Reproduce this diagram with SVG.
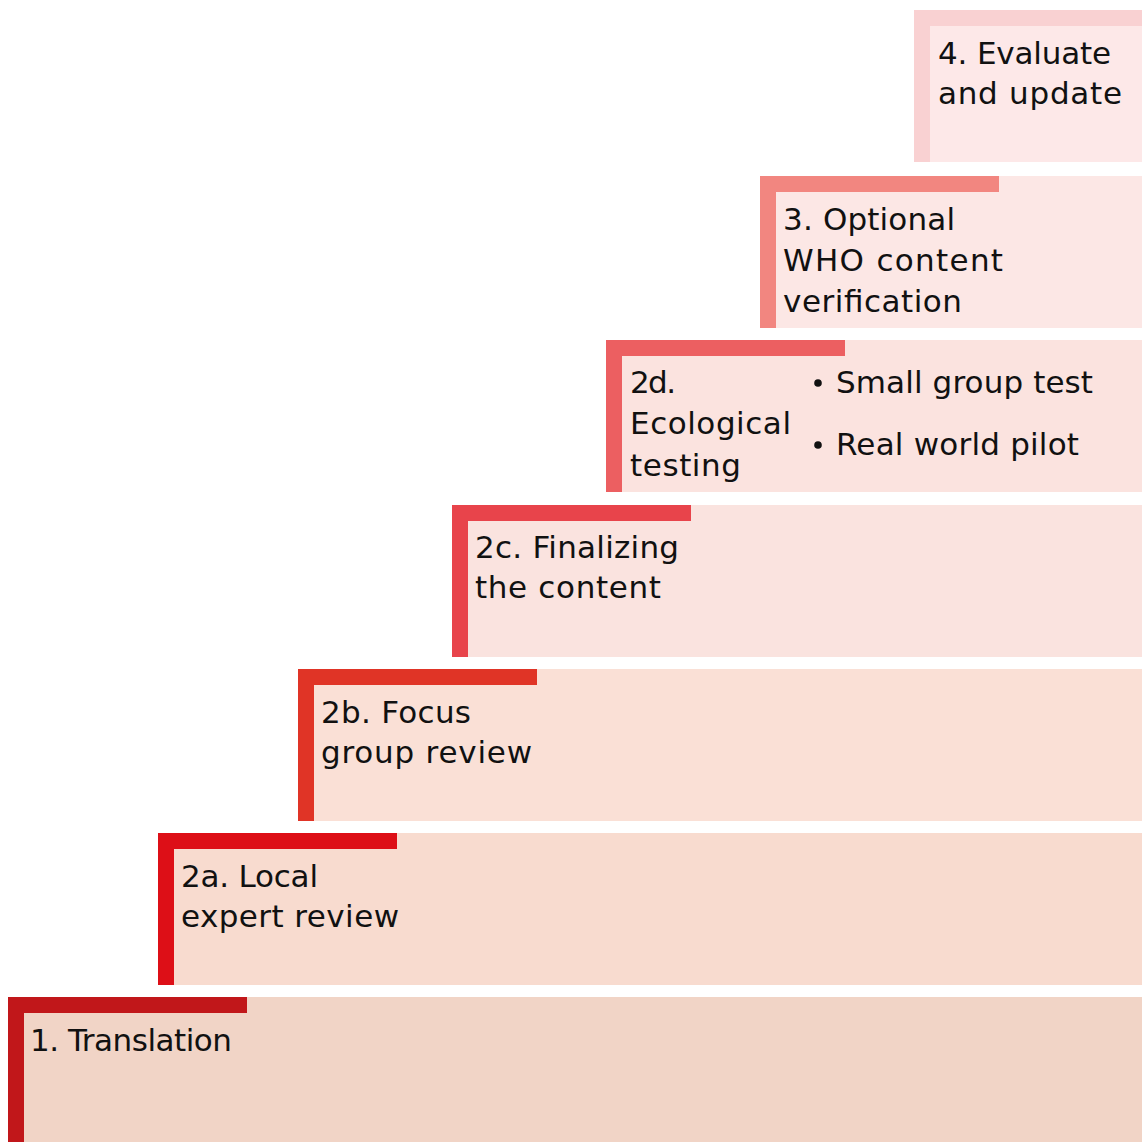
<svg xmlns="http://www.w3.org/2000/svg" width="1142" height="1142" viewBox="0 0 1142 1142">
<style>
text { font-family: "DejaVu Sans", "Liberation Sans", sans-serif; font-size: 31px; fill: #111; }
</style>
<rect width="1142" height="1142" fill="#ffffff"/>
<g id="step-1">
<rect x="8" y="997" width="1134" height="145" fill="#F1D4C6"/>
<rect x="8" y="997" width="239" height="16" fill="#C1171A"/>
<rect x="8" y="997" width="16" height="145" fill="#C1171A"/>
<text x="30" y="1051" textLength="202" lengthAdjust="spacing">1. Translation</text>
</g>
<g id="step-2a">
<rect x="158" y="833" width="984" height="152" fill="#F8DBCF"/>
<rect x="158" y="833" width="239" height="16" fill="#DD0F17"/>
<rect x="158" y="833" width="16" height="152" fill="#DD0F17"/>
<text x="181" y="887" textLength="137" lengthAdjust="spacing">2a. Local</text>
<text x="181" y="927" textLength="218" lengthAdjust="spacing">expert review</text>
</g>
<g id="step-2b">
<rect x="298" y="669" width="844" height="152" fill="#FAE0D6"/>
<rect x="298" y="669" width="239" height="16" fill="#E03426"/>
<rect x="298" y="669" width="16" height="152" fill="#E03426"/>
<text x="321" y="723" textLength="150" lengthAdjust="spacing">2b. Focus</text>
<text x="321" y="763" textLength="211" lengthAdjust="spacing">group review</text>
</g>
<g id="step-2c">
<rect x="452" y="505" width="690" height="152" fill="#FAE3DF"/>
<rect x="452" y="505" width="239" height="16" fill="#E8444B"/>
<rect x="452" y="505" width="16" height="152" fill="#E8444B"/>
<text x="475" y="558" textLength="204" lengthAdjust="spacing">2c. Finalizing</text>
<text x="475" y="598" textLength="186" lengthAdjust="spacing">the content</text>
</g>
<g id="step-2d">
<rect x="606" y="340" width="536" height="152" fill="#FBE3DF"/>
<rect x="606" y="340" width="239" height="16" fill="#EC5F61"/>
<rect x="606" y="340" width="16" height="152" fill="#EC5F61"/>
<text x="630" y="393" textLength="46" lengthAdjust="spacing">2d.</text>
<text x="630" y="434" textLength="161" lengthAdjust="spacing">Ecological</text>
<text x="630" y="476" textLength="111" lengthAdjust="spacing">testing</text>
<circle cx="818" cy="383" r="3.8" fill="#111"/>
<text x="836" y="393" textLength="257" lengthAdjust="spacing">Small group test</text>
<circle cx="818" cy="445" r="3.8" fill="#111"/>
<text x="836" y="455" textLength="243" lengthAdjust="spacing">Real world pilot</text>
</g>
<g id="step-3">
<rect x="760" y="176" width="382" height="152" fill="#FCE7E5"/>
<rect x="760" y="176" width="239" height="16" fill="#F28680"/>
<rect x="760" y="176" width="16" height="152" fill="#F28680"/>
<text x="783" y="230" textLength="172" lengthAdjust="spacing">3. Optional</text>
<text x="783" y="271" textLength="220" lengthAdjust="spacing">WHO content</text>
<text x="783" y="312" textLength="179" lengthAdjust="spacing">verification</text>
</g>
<g id="step-4">
<rect x="914" y="10" width="228" height="152" fill="#FDE8E8"/>
<rect x="914" y="10" width="228" height="16" fill="#F9D1D2"/>
<rect x="914" y="10" width="16" height="152" fill="#F9D1D2"/>
<text x="938" y="64" textLength="173" lengthAdjust="spacing">4. Evaluate</text>
<text x="938" y="104" textLength="184" lengthAdjust="spacing">and update</text>
</g>
<g id="connectors"/>
</svg>
